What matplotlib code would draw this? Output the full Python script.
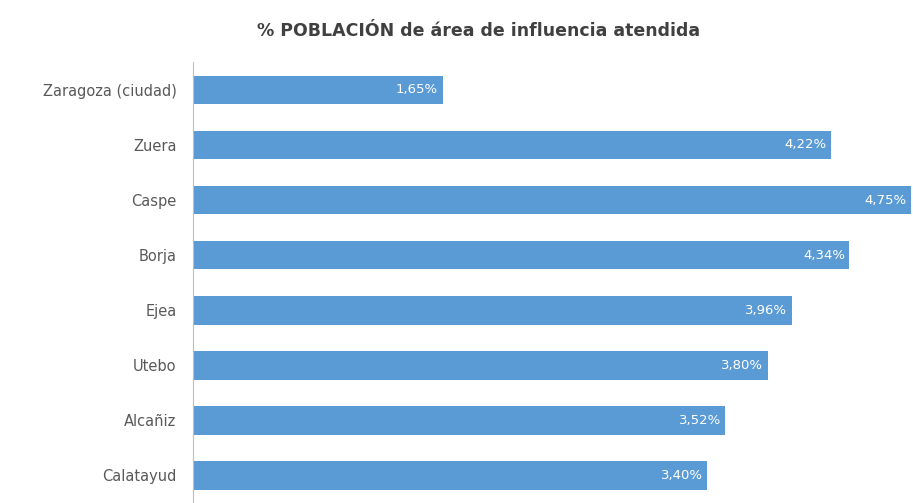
import matplotlib
matplotlib.use("Agg")
import matplotlib.pyplot as plt

categories = ["Zaragoza (ciudad)", "Zuera", "Caspe", "Borja", "Ejea", "Utebo", "Alcañiz", "Calatayud"]
values = [1.65, 4.22, 4.75, 4.34, 3.96, 3.80, 3.52, 3.40]
value_labels = ["1,65%", "4,22%", "4,75%", "4,34%", "3,96%", "3,80%", "3,52%", "3,40%"]
title = "% POBLACIÓN de área de influencia atendida"

plt.rcParams['font.family'] = ['DejaVu Sans']

fig = plt.figure(figsize=(9.13, 5.03), dpi=100)
ax = fig.add_axes([0.2115, 0.0, 0.7885, 0.876])

ypos = list(range(len(categories)))
bars = ax.barh(ypos, values, height=0.52, color="#5B9BD5")
ax.set_ylim(len(categories) - 0.5, -0.5)
ax.set_xlim(0, 4.76)
ax.set_yticks(ypos)
ax.set_yticklabels(categories, fontsize=10.5, color="#595959")
ax.tick_params(axis='y', length=0, pad=12)
ax.set_xticks([])
for s in ["top", "right", "bottom"]:
    ax.spines[s].set_visible(False)
ax.spines["left"].set_color("#bfbfbf")
ax.spines["left"].set_linewidth(0.8)

for b, lab in zip(bars, value_labels):
    ax.text(b.get_width() - 0.03, b.get_y() + b.get_height() / 2, lab,
            ha="right", va="center", color="white", fontsize=9.5)

fig.text(0.524, 0.938, title, ha="center", va="center", fontsize=12.5,
         fontweight="bold", color="#404040")

fig.savefig("out.png", dpi=100, facecolor="white")
